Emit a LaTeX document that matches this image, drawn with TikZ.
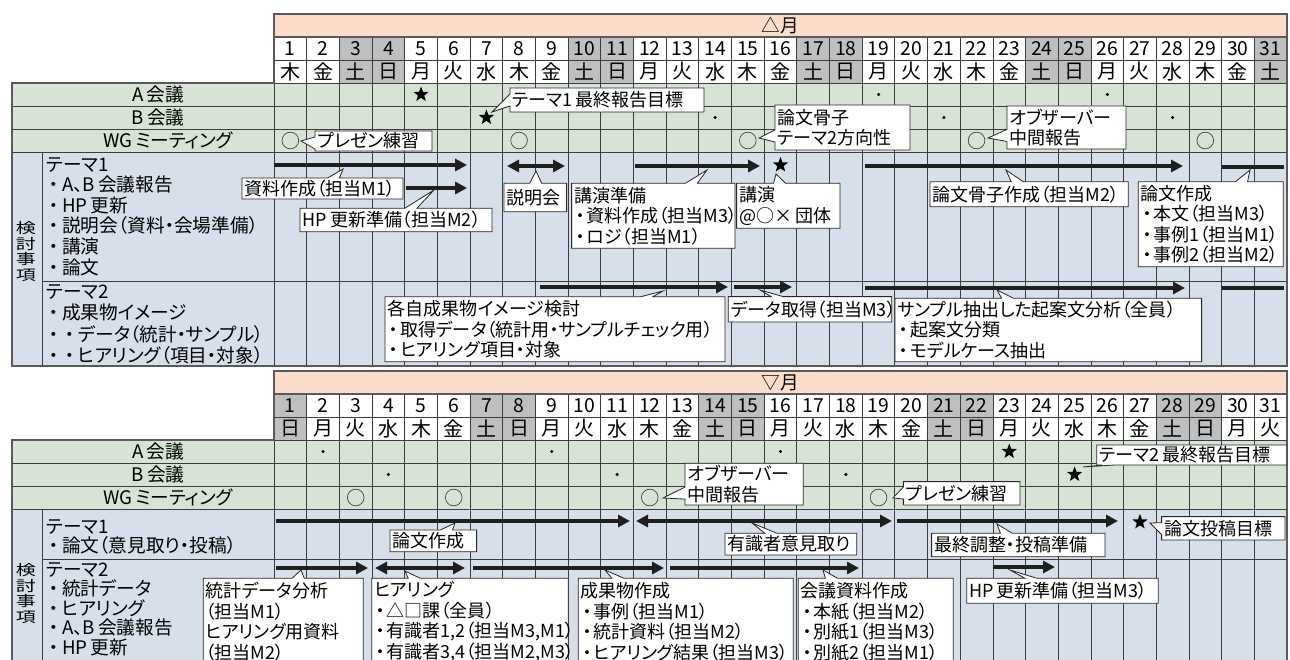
\documentclass[tikz,border=0pt]{standalone}
\usepackage{fontspec}
\setmainfont{Noto Sans CJK JP}[RawFeature=+palt]
\usetikzlibrary{shapes.callouts,shapes.geometric,arrows.meta}
\setlength{\lineskiplimit}{-20pt}
\definecolor{pinkh}{HTML}{FCDCCB}
\definecolor{greenr}{HTML}{D7E3D4}
\definecolor{bluer}{HTML}{D6DFEA}
\definecolor{wkend}{HTML}{BEBFC1}
\definecolor{gridc}{HTML}{3C3C3C}
\definecolor{bordc}{HTML}{5A5A5A}
\newcommand{\DX}[1]{274+(#1)*32.677}
\newcommand{\bu}{\makebox[0.7em][c]{・}}
\newcommand{\bul}{\makebox[0.85em][c]{・}}
\newcommand{\sq}[1]{\scalebox{1}[0.72]{#1}}
\tikzset{
 gl/.style={draw=gridc, line width=0.6pt},
 bl/.style={draw=bordc, line width=1.1pt},
 cell/.style={inner sep=0pt},
 numf/.style={inner sep=0pt, font=\fontsize{14.5}{16}\selectfont},
 wkf/.style={inner sep=0pt, font=\fontsize{15}{16}\selectfont},
 rowf/.style={inner sep=0pt, font=\fontsize{14}{16}\selectfont},
 lbl/.style={inner sep=0pt, align=left, anchor=west},
 bar/.style={draw=black!88, line width=3pt},
 rarr/.style={-{Triangle[length=9pt,width=9pt]}},
 darr/.style={{Triangle[length=9pt,width=9pt]}-{Triangle[length=9pt,width=9pt]}},
 co/.style={rectangle callout, draw=black!85, line width=0.6pt, fill=white, inner xsep=2pt, inner ysep=0pt, align=left, callout pointer width=9pt, font=\fontsize{13.5}{15.4}\selectfont},
 starm/.style={star, star points=5, star point ratio=2.4, fill=black, draw=none, inner sep=0pt, minimum size=12pt},
 ring/.style={circle, draw=black!75, line width=0.5pt, minimum size=12.5pt, inner sep=0pt},
 dotm/.style={circle, fill=black, minimum size=2.6pt, inner sep=0pt},
 vert/.style={inner sep=0pt, align=center, font=\fontsize{15}{11.8}\selectfont},
}
\newcommand{\ChartHead}[4]{%
  \fill[pinkh] (274,{#2+14}) rectangle (1287,{#2+37});
  \fill[greenr] (12,{#2+83}) rectangle (1287,{#2+152});
  \foreach \d/\w/\g in {#4} {
    \ifnum\g=1 \fill[wkend] ({\DX{\d-1}},{#2+37}) rectangle ({\DX{\d}},{#2+83});\fi
    \node[numf] (#1n\d) at ({\DX{\d-0.5}},{#2+48.5}) {\d};
    \node[wkf] (#1w\d) at ({\DX{\d-0.5}},{#2+71.5}) {\w};
  }
  \node[rowf] (#1m) at (780,{#2+25.5}) {#3};
  \node[rowf] (#1A) at (158,{#2+94.5}) {A\,会議};
  \node[rowf] (#1B) at (158,{#2+117.5}) {B\,会議};
  \node[rowf] (#1W) at (168,{#2+140.5}) {WG\,ミーティング};
}
\newcommand{\ChartGrid}[3]{%
  \foreach \k in {1,...,30} \draw[gl] ({\DX{\k}},{#1+37}) -- ({\DX{\k}},#3);
  \foreach \yy in {60,83} \draw[gl] (274,{#1+\yy}) -- (1287,{#1+\yy});
  \foreach \yy in {106,129,152} \draw[gl] (12,{#1+\yy}) -- (1287,{#1+\yy});
  \draw[gl] (42,{#1+152}) -- (42,#3);
  \draw[gl] (42,#2) -- (1287,#2);
  \draw[gl] (274,{#1+37}) -- (274,#3);
  \draw[bl] (274,{#1+14}) rectangle (1287,{#1+37});
  \draw[bl] (274,{#1+37}) -- (274,{#1+83}) -- (12,{#1+83}) -- (12,#3) -- (1287,#3) -- (1287,{#1+37});
}
\begin{document}
\begin{tikzpicture}[x=0.75pt,y=-0.75pt,font=\fontsize{13.5}{15.4}\selectfont]
\useasboundingbox (0,0) rectangle (1290,660);
\clip (0,0) rectangle (1290,660);
\fill[white] (0,0) rectangle (1290,660);

% ================= top chart =================
\ChartHead{t}{0}{△月}{1/木/0,2/金/0,3/土/1,4/日/1,5/月/0,6/火/0,7/水/0,8/木/0,9/金/0,10/土/1,11/日/1,12/月/0,13/火/0,14/水/0,15/木/0,16/金/0,17/土/1,18/日/1,19/月/0,20/火/0,21/水/0,22/木/0,23/金/0,24/土/1,25/日/1,26/月/0,27/火/0,28/水/0,29/木/0,30/金/0,31/土/1}
\fill[bluer] (12,152) rectangle (1287,366);
\ChartGrid{0}{281}{366}

\node[vert] (tk) at (26,251.5) {\sq{検}\\\sq{討}\\\sq{事}\\\sq{項}};
\node[lbl,font=\fontsize{14}{15.45}\selectfont] (tT1) at (46,216.5) {テーマ1\\\bul A、B\,会議報告\\\bul HP\,更新\\\bul 説明会（資料・会場準備）\\\bul 講演\\\bul 論文};
\node[lbl,font=\fontsize{14}{16.1}\selectfont] (tT2) at (46,324.5) {テーマ2\\\bul 成果物イメージ\\\bul\bul データ（統計・サンプル）\\\bul\bul ヒアリング（項目・対象）};

% bars top
\draw[bar,rarr] ({\DX{0}},165) -- ({\DX{6}-3},165);
\draw[bar,rarr] ({\DX{4}+1},188) -- ({\DX{6}-3},188);
\draw[bar,darr] (507,166) -- (565,166);
\draw[bar,rarr] (635,166) -- (760,166);
\draw[bar,rarr] (865,166) -- (1183,166);
\draw[bar] ({\DX{29}},167) -- (1284,167);
\draw[bar,rarr] (540,287) -- (728,287);
\draw[bar,rarr] (734,287) -- (792,287);
\draw[bar,rarr] (865,288) -- (1185,288);
\draw[bar] ({\DX{29}},288) -- (1284,288);

% callouts top
\node[co, text width=83.75pt, minimum height=15pt, callout absolute pointer={(301,141)}] (c1) at (373.5,141) {プレゼン練習};
\node[co, text width=141.5pt, minimum height=18pt, callout absolute pointer={(492,112)}] (c2) at (607,100) {テーマ1\,最終報告目標};
\node[co, text width=97.25pt, minimum height=33.75pt, callout absolute pointer={(759,138)}] (c3) at (842.5,127.5) {論文骨子\\テーマ2方向性};
\node[co, text width=85.25pt, minimum height=32.25pt, callout absolute pointer={(988,138)}] (c4) at (1066.5,127.5) {オブザーバー\\中間報告};
\node[co, text width=116.75pt, minimum height=15.75pt, callout absolute pointer={(343,169)}] (c5) at (322.5,188.5) {資料作成（担当M1）};
\node[co, text width=140pt, minimum height=17.6pt, callout absolute pointer={(434,190)}] (c6) at (396,220) {HP\,更新準備（担当M2）};
\node[co, text width=43pt, minimum height=21.3pt, callout absolute pointer={(536,171)}] (c7) at (535.3,197.5) {説明会};
\node[co, text width=118.5pt, minimum height=48.75pt, callout absolute pointer={(707,170)}] (c8) at (653.3,215.8) {講演準備\\\bu 資料作成（担当M3）\\\bu ロジ（担当M1）};
\node[co, text width=73.5pt, minimum height=33.75pt, callout absolute pointer={(776,174)}] (c9) at (788.3,205.8) {講演\\@○×\,団体};
\node[co, text width=144.7pt, minimum height=18.75pt, callout absolute pointer={(1006,170)}] (c10) at (1029.2,194.2) {論文骨子作成（担当M2）};
\node[co, text width=104.75pt, minimum height=63.75pt, callout absolute pointer={(1250,170)}] (c11) at (1210.8,224.2) {論文作成\\\bu 本文（担当M3）\\\bu 事例1（担当M1）\\\bu 事例2（担当M2）};
\node[co, text width=251pt, minimum height=48.75pt, callout absolute pointer={(663,291)}] (c12) at (555,329.2) {各自成果物イメージ検討\\\bu 取得データ（統計用・サンプルチェック用）\\\bu ヒアリング項目・対象};
\node[co, text width=118.5pt, minimum height=19pt, callout absolute pointer={(760,290)}] (c13) at (810,309.3) {データ取得（担当M3）};
\node[co, text width=226pt, minimum height=47.5pt, callout absolute pointer={(997,290)}] (c14) at (1048.3,330) {サンプル抽出した起案文分析（全員）\\\bu 起案文分類\\\bu モデルケース抽出};

% markers top
\node[starm] (tsA5) at ({\DX{4.5}},94.5) {};
\foreach \d in {19,26} \node[dotm] (tdA\d) at ({\DX{\d-0.5}},94.5) {};
\node[starm] (tsB7) at ({\DX{6.5}},117.5) {};
\foreach \d in {14,21,28} \node[dotm] (tdB\d) at ({\DX{\d-0.5}},117.5) {};
\foreach \d in {1,8,15,22,29} \node[ring] (trW\d) at ({\DX{\d-0.5}},140.5) {};
\node[starm] (tsT16) at ({\DX{15.5}},165) {};

% ================= bottom chart =================
\ChartHead{b}{357}{▽月}{1/日/1,2/月/0,3/火/0,4/水/0,5/木/0,6/金/0,7/土/1,8/日/1,9/月/0,10/火/0,11/水/0,12/木/0,13/金/0,14/土/1,15/日/1,16/月/0,17/火/0,18/水/0,19/木/0,20/金/0,21/土/1,22/日/1,23/月/0,24/火/0,25/水/0,26/木/0,27/金/0,28/土/1,29/日/1,30/月/0,31/火/0}
\fill[bluer] (12,509) rectangle (1287,680);
\ChartGrid{357}{559}{680}

\node[vert] (bk) at (26,593.5) {\sq{検}\\\sq{討}\\\sq{事}\\\sq{項}};
\node[lbl,font=\fontsize{14}{14.25}\selectfont] (bT1) at (46,536.5) {テーマ1\\\bul 論文（意見取り・投稿）};
\node[lbl,font=\fontsize{14}{14.6}\selectfont] (bT2) at (46,609) {テーマ2\\\bul 統計データ\\\bul ヒアリング\\\bul A、B\,会議報告\\\bul HP\,更新};

% bars bottom
\draw[bar,rarr] (276,521) -- (630,521);
\draw[bar,darr] (636,521) -- (892,521);
\draw[bar,rarr] (897,521) -- (1118,521);
\draw[bar,rarr] (276,568) -- (368,568);
\draw[bar,darr] (375,568) -- (465,568);
\draw[bar,rarr] (473,568) -- (664,568);
\draw[bar,rarr] (670,568) -- (859,568);
\draw[bar,rarr] (993,567) -- (1055,567);

% callouts bottom
\node[co, text width=138.5pt, minimum height=15pt, callout absolute pointer={(1083,467)}] (d1) at (1191.7,455) {テーマ2\,最終報告目標};
\node[co, text width=84.7pt, minimum height=31.3pt, callout absolute pointer={(663,498)}] (d2) at (744.2,484.2) {オブザーバー\\中間報告};
\node[co, text width=83.5pt, minimum height=17.5pt, callout absolute pointer={(893,498)}] (d3) at (961.7,493.3) {プレゼン練習};
\node[co, text width=61pt, minimum height=16.3pt, callout absolute pointer={(455,523)}] (d4) at (433.3,540.8) {論文作成};
\node[co, text width=94.8pt, minimum height=16.3pt, callout absolute pointer={(752,523)}] (d5) at (790.8,544.2) {有識者意見取り};
\node[co, text width=126pt, minimum height=17.5pt, callout absolute pointer={(997,524)}] (d6) at (1018.3,545) {最終調整・投稿準備};
\node[co, text width=88.5pt, minimum height=17.5pt, callout absolute pointer={(1150,523)}] (d7) at (1223.3,528.3) {論文投稿目標};
\node[co, text width=116pt, minimum height=65.25pt, callout absolute pointer={(301,570)}] (d8) at (283.3,621.7) {統計データ分析\\（担当M1）\\ヒアリング用資料\\（担当M2）};
\node[co, text width=143.5pt, minimum height=65.25pt, callout absolute pointer={(405,571)}] (d9) at (470,621.7) {ヒアリング\\\bu △□課（全員）\\\bu 有識者1,2（担当M3,M1）\\\bu 有識者3,4（担当M2,M3）};
\node[co, text width=157.25pt, minimum height=65.25pt, callout absolute pointer={(605,570)}] (d10) at (685.8,621.7) {成果物作成\\\bu 事例（担当M1）\\\bu 統計資料（担当M2）\\\bu ヒアリング結果（担当M3）};
\node[co, text width=112.25pt, minimum height=65.25pt, callout absolute pointer={(823,570)}] (d11) at (875.8,621.7) {会議資料作成\\\bu 本紙（担当M2）\\\bu 別紙1（担当M3）\\\bu 別紙2（担当M1）};
\node[co, text width=139.75pt, minimum height=18.75pt, callout absolute pointer={(1010,570)}] (d12) at (1062.5,590.8) {HP\,更新準備（担当M3）};

% markers bottom
\foreach \d in {2,9,16} \node[dotm] (bdA\d) at ({\DX{\d-0.5}},451.5) {};
\node[starm] (bsA23) at ({\DX{22.5}},451.5) {};
\foreach \d in {4,11,18} \node[dotm] (bdB\d) at ({\DX{\d-0.5}},474.5) {};
\node[starm] (bsB25) at ({\DX{24.5}},474.5) {};
\foreach \d in {3,6,12,19} \node[ring] (brW\d) at ({\DX{\d-0.5}},497.5) {};
\node[starm] (bsT27) at ({\DX{26.5}},522) {};
\end{tikzpicture}
\end{document}
